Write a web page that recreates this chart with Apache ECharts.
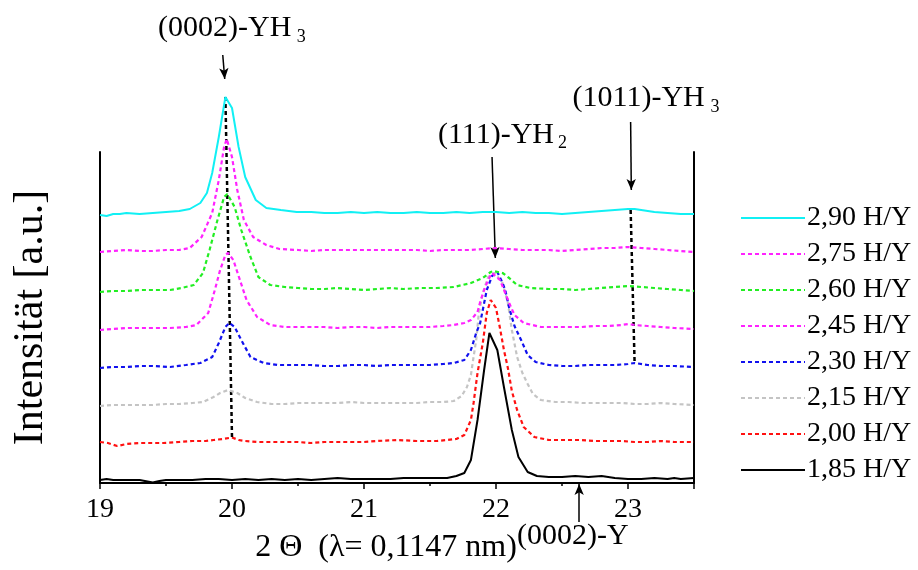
<!DOCTYPE html>
<html>
<head>
<meta charset="utf-8">
<script src="https://cdn.jsdelivr.net/npm/echarts@6/dist/echarts.min.js"></script>
<style>
html,body{margin:0;padding:0;background:#fff}
#chart{width:918px;height:570px}
</style>
</head>
<body>
<div id="chart"></div>
<script>
// X-ray diffraction patterns of YHx films, stacked with a vertical offset (arbitrary units)
const xTicks = [19, 20, 21, 22, 23];

const names = ['2,90 H/Y', '2,75 H/Y', '2,60 H/Y', '2,45 H/Y', '2,30 H/Y', '2,15 H/Y', '2,00 H/Y', '1,85 H/Y'];

const h290 = [[19.00,268],[19.05,267],[19.10,269],[19.15,269],[19.20,270],[19.30,269],[19.40,270],[19.50,271],[19.60,272],[19.68,274],[19.76,280],[19.81,290],[19.85,310],[19.90,346],[19.95,386],[20.00,375],[20.05,336],[20.10,306],[20.18,283],[20.26,275],[20.37,273],[20.49,271],[20.60,271],[20.70,270],[20.80,270],[20.90,271],[21.00,270],[21.10,271],[21.20,270],[21.30,270],[21.40,271],[21.50,270],[21.60,270],[21.70,271],[21.80,270],[21.90,271],[22.00,271],[22.10,270],[22.20,271],[22.30,270],[22.40,270],[22.50,269],[22.60,270],[22.70,271],[22.80,272],[22.90,273],[23.00,274],[23.05,274],[23.10,273],[23.20,271],[23.30,270],[23.40,269],[23.50,269]];

const h275 = [[19.00,231],[19.10,232],[19.20,233],[19.30,232],[19.40,232],[19.50,233],[19.60,233],[19.68,235],[19.77,246],[19.85,270],[19.90,303],[19.94,336],[19.96,344],[20.00,326],[20.04,293],[20.09,263],[20.16,246],[20.26,238],[20.36,234],[20.50,233],[20.60,232],[20.70,233],[20.80,233],[20.90,233],[21.00,233],[21.10,233],[21.20,233],[21.30,233],[21.40,233],[21.50,232],[21.60,233],[21.70,233],[21.80,233],[21.90,234],[22.00,235],[22.10,234],[22.20,233],[22.30,233],[22.40,233],[22.50,232],[22.60,233],[22.70,234],[22.80,235],[22.90,235],[23.00,236],[23.10,235],[23.20,234],[23.30,233],[23.40,232],[23.50,231]];

const h260 = [[19.00,191],[19.10,192],[19.20,192],[19.30,193],[19.40,193],[19.53,193],[19.62,195],[19.71,198],[19.78,210],[19.83,233],[19.89,263],[19.94,286],[19.965,289],[20.02,276],[20.07,253],[20.14,226],[20.20,206],[20.29,198],[20.40,196],[20.50,195],[20.60,194],[20.70,194],[20.80,195],[20.90,194],[21.00,193],[21.10,194],[21.20,195],[21.30,194],[21.43,195],[21.55,195],[21.68,196],[21.81,200],[21.90,205],[21.96,211],[21.98,212],[22.05,210],[22.10,205],[22.16,198],[22.26,195],[22.40,194],[22.50,194],[22.60,193],[22.70,194],[22.80,195],[22.90,196],[23.00,197],[23.10,196],[23.20,195],[23.30,194],[23.40,193],[23.50,192]];

const h245 = [[19.00,153],[19.10,154],[19.20,155],[19.30,155],[19.40,155],[19.53,155],[19.65,156],[19.73,158],[19.82,170],[19.87,193],[19.91,213],[19.95,228],[19.97,230],[20.01,223],[20.06,203],[20.11,183],[20.19,166],[20.29,158],[20.40,156],[20.50,156],[20.60,156],[20.70,156],[20.80,155],[20.90,156],[21.00,156],[21.10,155],[21.20,156],[21.30,156],[21.40,156],[21.50,156],[21.60,157],[21.68,158],[21.76,160],[21.81,163],[21.86,171],[21.88,181],[21.91,193],[21.94,203],[21.97,210],[22.03,203],[22.07,190],[22.10,180],[22.14,168],[22.21,160],[22.34,156],[22.45,156],[22.55,156],[22.65,156],[22.75,157],[22.85,157],[22.95,158],[23.00,159],[23.05,158],[23.15,157],[23.25,156],[23.35,155],[23.50,154]];

const h230 = [[19.00,115],[19.10,116],[19.20,116],[19.30,117],[19.40,117],[19.53,116],[19.65,118],[19.76,120],[19.85,126],[19.90,140],[19.95,156],[19.98,160],[20.02,156],[20.07,143],[20.14,126],[20.24,120],[20.35,118],[20.50,118],[20.60,118],[20.70,117],[20.80,117],[20.90,118],[21.00,118],[21.10,117],[21.20,118],[21.30,118],[21.40,118],[21.50,118],[21.60,119],[21.68,120],[21.76,123],[21.81,133],[21.85,150],[21.88,160],[21.93,193],[21.97,207],[22.01,211],[22.05,200],[22.07,193],[22.10,175],[22.14,157],[22.19,143],[22.24,128],[22.30,121],[22.40,118],[22.50,117],[22.60,117],[22.70,118],[22.80,118],[22.90,118],[23.00,119],[23.05,120],[23.15,118],[23.25,117],[23.35,117],[23.50,116]];

const h215 = [[19.00,77],[19.10,78],[19.20,78],[19.30,78],[19.40,78],[19.50,79],[19.60,79],[19.70,80],[19.78,81],[19.86,86],[19.91,90],[19.97,93],[20.04,90],[20.10,85],[20.19,81],[20.30,79],[20.40,79],[20.50,80],[20.60,80],[20.70,80],[20.80,80],[20.90,81],[21.00,80],[21.10,80],[21.20,80],[21.30,80],[21.40,80],[21.50,81],[21.60,81],[21.68,82],[21.74,87],[21.78,96],[21.81,108],[21.83,126],[21.85,143],[21.87,170],[21.90,190],[21.94,206],[21.99,210],[22.05,200],[22.09,180],[22.12,153],[22.16,126],[22.20,110],[22.24,99],[22.28,89],[22.34,83],[22.45,81],[22.55,81],[22.65,80],[22.75,80],[22.85,80],[22.95,80],[23.05,79],[23.15,79],[23.25,80],[23.35,79],[23.50,78]];

const h200 = [[19.00,41],[19.06,40],[19.13,37],[19.20,39],[19.30,40],[19.40,40],[19.48,40],[19.60,41],[19.70,42],[19.80,42],[19.86,43],[19.93,44],[20.00,45.5],[20.05,43],[20.10,42],[20.20,41],[20.30,41],[20.40,41],[20.50,41],[20.60,40],[20.70,41],[20.80,41],[20.90,41],[21.00,41],[21.10,42],[21.25,43],[21.40,42],[21.55,42],[21.63,43],[21.70,44],[21.76,48],[21.81,63],[21.83,80],[21.86,110],[21.90,140],[21.93,170],[21.96,183],[22.00,175],[22.03,155],[22.06,133],[22.09,115],[22.12,92],[22.16,73],[22.21,56],[22.29,46],[22.40,43],[22.50,43],[22.64,43],[22.75,42],[22.85,42],[22.95,42],[23.05,41],[23.15,41],[23.25,42],[23.35,41],[23.50,41]];

const h185 = [[19.00,3],[19.05,4],[19.10,3],[19.20,3],[19.30,3],[19.40,0.5],[19.45,2],[19.50,3],[19.60,3],[19.70,3],[19.80,4],[19.90,4],[20.00,3],[20.10,4],[20.20,3],[20.30,4],[20.40,3],[20.50,4],[20.60,3],[20.70,4],[20.80,5],[20.90,4],[21.00,4],[21.10,4],[21.20,4],[21.30,5],[21.40,5],[21.50,5],[21.63,5],[21.70,7],[21.76,10],[21.81,23],[21.86,63],[21.91,113],[21.95,150],[22.01,133],[22.06,96],[22.12,53],[22.17,26],[22.24,11],[22.31,7],[22.40,6],[22.50,6],[22.60,7],[22.70,6],[22.80,7],[22.90,5],[23.00,4],[23.10,4],[23.20,5],[23.30,4],[23.35,5],[23.40,4],[23.50,5]];

const traces = [h290, h275, h260, h245, h230, h215, h200, h185];

// Reflection markers: arrows pointing at the peaks, and dotted peak-position guides
const arrows = [
  [[19.93, 428], [19.945, 404]],
  [[21.97, 326], [21.995, 225]],
  [[23.02, 361], [23.025, 293]],
  [[22.63, -39], [22.63, -1]]
];
const guides = [
  [[19.95, 386], [20.0, 45.5]],
  [[23.02, 273], [23.05, 120]]
];
const notes = [
  {text: '(0002)-YH', at: [19.44, 455], size: 30},
  {text: '3', at: [20.49, 446], size: 18},
  {text: '(111)-YH', at: [21.56, 348], size: 30},
  {text: '2', at: [22.47, 340], size: 18},
  {text: '(1011)-YH', at: [22.58, 385], size: 30},
  {text: '3', at: [23.625, 376], size: 18},
  {text: '(0002)-Y', at: [22.16, -53], size: 30}
];

const colors = ['#11f0f4', '#ff22ff', '#22ee22', '#ff22ff', '#1111ee', '#c4c4c4', '#ff1111', '#000000'];
const dashed = [false, true, true, true, true, true, true, false];

const serif = 'Liberation Serif';
const chart = echarts.init(document.getElementById('chart'), null, {renderer: 'canvas'});

const series = traces.map((d, i) => ({
  name: names[i],
  type: 'line',
  data: d,
  symbol: 'none',
  showSymbol: false,
  clip: false,
  xAxisIndex: 0, yAxisIndex: 0,
  z: 2 + (traces.length - i),
  lineStyle: {
    color: colors[i],
    width: dashed[i] ? 2.2 : 2,
    type: dashed[i] ? [4, 3] : 'solid'
  },
  itemStyle: {color: colors[i]},
  emphasis: {disabled: true},
  animation: false
}));

// Annotation layer: same x scale, y scale extended over the whole canvas height
series.push({
  name: 'arrows', type: 'line', data: [], clip: false, silent: true, z: 20,
  xAxisIndex: 1, yAxisIndex: 2,
  markLine: {
    silent: true, animation: false,
    symbol: ['none', 'arrow'], symbolSize: [7, 11],
    label: {show: false},
    emphasis: {disabled: true},
    lineStyle: {color: '#000', width: 1.5, type: 'solid'},
    data: arrows.map(a => [{coord: a[0]}, {coord: a[1]}])
  }
});
series.push({
  name: 'guides', type: 'line', data: [], clip: false, silent: true, z: 20,
  xAxisIndex: 1, yAxisIndex: 2,
  markLine: {
    silent: true, animation: false,
    symbol: ['none', 'none'],
    label: {show: false},
    emphasis: {disabled: true},
    lineStyle: {color: '#000', width: 2.5, type: [4, 3]},
    data: guides.map(a => [{coord: a[0]}, {coord: a[1]}])
  }
});

chart.setOption({
  animation: false,
  backgroundColor: '#fff',
  grid: [
    {left: 100, right: 224, top: 152, bottom: 87, containLabel: false, outerBoundsMode: 'none'},
    {left: 100, right: 224, top: 0, bottom: 0, containLabel: false, outerBoundsMode: 'none'}
  ],
  legend: {
    data: names,
    orient: 'vertical',
    left: 740, top: 204,
    itemWidth: 64, itemHeight: 14, itemGap: 8,
    padding: 0,
    selectedMode: false,
    itemStyle: {opacity: 0},
    textStyle: {fontFamily: serif, fontSize: 28, color: '#000', lineHeight: 28, padding: [0, 0, 0, -3]}
  },
  xAxis: [{
    gridIndex: 0,
    type: 'value', min: 19, max: 23.5, interval: 1,
    name: '2 \u0398  (\u03bb= 0,1147 nm)',
    nameLocation: 'middle', nameGap: 49,
    nameTextStyle: {fontFamily: serif, fontSize: 32, color: '#000', padding: [0, 22, 0, 0]},
    axisLine: {show: true, lineStyle: {color: '#000', width: 2}},
    axisTick: {show: true, length: 6, lineStyle: {color: '#000', width: 1.5}},
    minorTick: {show: true, splitNumber: 2, length: 3, lineStyle: {color: '#000', width: 1.5}},
    splitLine: {show: false},
    minorSplitLine: {show: false},
    axisLabel: {
      fontFamily: serif, fontSize: 28, color: '#000', margin: 13,
      formatter: v => (xTicks.indexOf(v) >= 0 ? String(v) : '')
    }
  }, {
    gridIndex: 1, type: 'value', min: 19, max: 23.5, show: false
  }],
  yAxis: [{
    gridIndex: 0,
    type: 'value', min: 0, max: 331,
    name: 'Intensit\u00e4t [a.u.]',
    nameLocation: 'middle', nameRotate: 90, nameGap: 48,
    nameTextStyle: {fontFamily: serif, fontSize: 42, color: '#000'},
    axisLine: {show: true, lineStyle: {color: '#000', width: 2}},
    axisTick: {show: false}, axisLabel: {show: false}, splitLine: {show: false}
  }, {
    gridIndex: 0,
    type: 'value', min: 0, max: 331, position: 'right',
    axisLine: {show: true, lineStyle: {color: '#000', width: 2}},
    axisTick: {show: false}, axisLabel: {show: false}, splitLine: {show: false}
  }, {
    gridIndex: 1, type: 'value', min: -87, max: 483, show: false
  }],
  series: series
});

// Reflection labels placed through the annotation layer's coordinate conversion
const toPx = p => chart.convertToPixel({xAxisIndex: 1, yAxisIndex: 2}, p);
chart.setOption({
  graphic: notes.map(n => {
    const p = toPx(n.at);
    return {
      type: 'text', x: p[0], y: p[1], z: 30, silent: true,
      style: {text: n.text, fontFamily: serif, fontSize: n.size, fill: '#000', verticalAlign: 'middle'}
    };
  })
});
</script>
</body>
</html>
